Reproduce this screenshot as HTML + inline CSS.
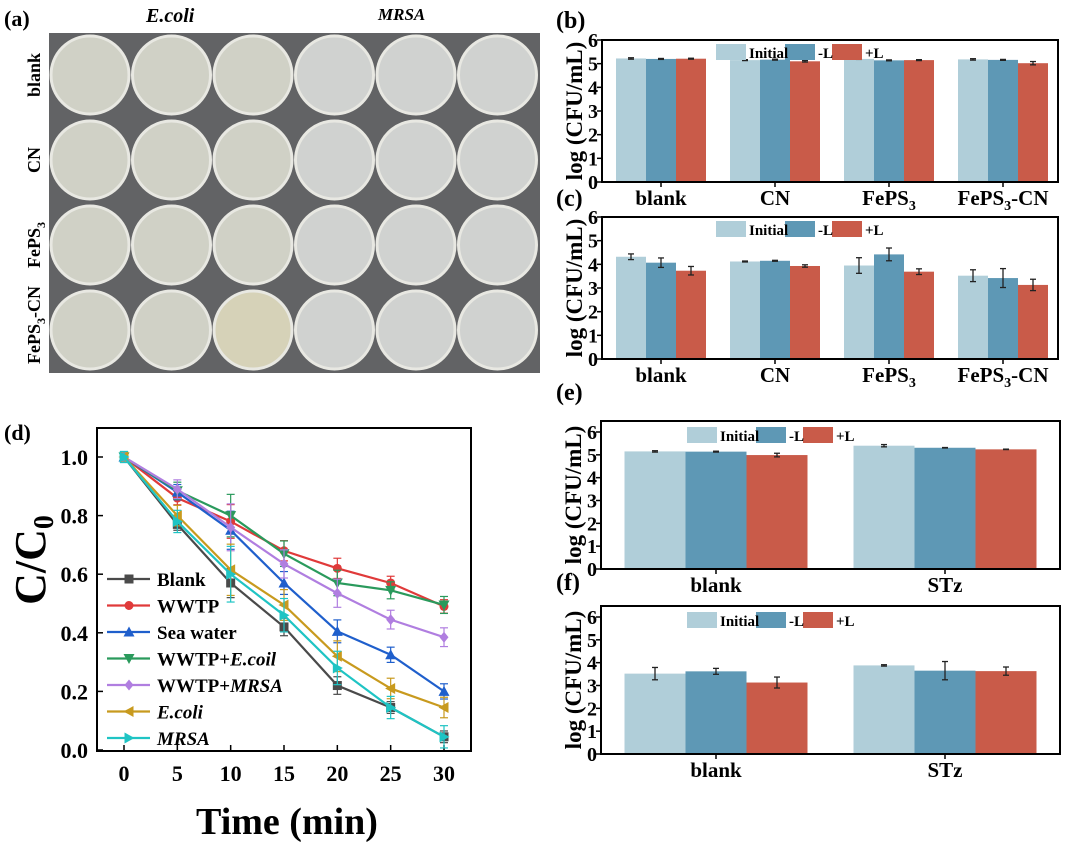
<!DOCTYPE html>
<html><head><meta charset="utf-8"><style>
body{margin:0;background:#fff}
svg{display:block;font-family:"Liberation Serif",serif;font-weight:bold}
</style></head><body>
<svg id="fig" width="1080" height="842" viewBox="0 0 1080 842" xmlns="http://www.w3.org/2000/svg">
<g id="pa">
<text x="4" y="26" font-size="22">(a)</text>
<text x="146" y="22" font-size="20" font-style="italic">E.coli</text>
<text x="378" y="20" font-size="17" font-style="italic">MRSA</text>
<rect x="49" y="33" width="491" height="340" fill="#626365"/>
<text transform="translate(40,75) rotate(-90)" text-anchor="middle" font-size="18">blank</text>
<text transform="translate(40,160) rotate(-90)" text-anchor="middle" font-size="18">CN</text>
<text transform="translate(40,245) rotate(-90)" text-anchor="middle" font-size="18">FePS<tspan font-size="12" dy="5">3</tspan></text>
<text transform="translate(40,325) rotate(-90)" text-anchor="middle" font-size="18">FePS<tspan font-size="12" dy="5">3</tspan><tspan dy="-5">-CN</tspan></text>
</g>
<g id="pd"></g>
<g id="pbars"></g>
</svg>
<script>
const NS="http://www.w3.org/2000/svg";
function mk(p,t,a){const e=document.createElementNS(NS,t);for(const k in a)e.setAttribute(k,a[k]);p.appendChild(e);return e;}
const pa=document.getElementById('pa');
for(let r=0;r<4;r++)for(let c=0;c<6;c++){
 const col=c<3?(r==3&&c==2?'#d6d2b8':'#d0d1c6'):'#d0d2d0';
 const p=mk(pa,'circle',{cx:49+41+c*81.5,cy:33+42+r*85,r:39,fill:col,stroke:'#e8e8e2','stroke-width':3});
 
 
}
// ===== Panel d data =====
const times=[0,5,10,15,20,25,30];
const seriesNames=["Blank","WWTP","Sea water","WWTP+E.coil","WWTP+MRSA","E.coli","MRSA"];
const blankVals=[1,0.77,0.57,0.42,0.22,0.145,0.045];
const wwtpVals=[1,0.86,0.78,0.68,0.62,0.57,0.49];
const seaVals=[1,0.88,0.75,0.57,0.405,0.325,0.20];
const wwtpEVals=[1,0.885,0.80,0.67,0.57,0.545,0.495];
const wwtpMVals=[1,0.89,0.76,0.635,0.535,0.445,0.385];
const ecoliVals=[1,0.80,0.615,0.495,0.32,0.21,0.145];
const mrsaVals=[1,0.78,0.60,0.46,0.28,0.145,0.045];
const errD=[0.01,0.02,0.05,0.03,0.03,0.02,0.02];
const yTicksD=[0,0.2,0.4,0.6,0.8,1.0];
const xTicksD=[0,5,10,15,20,25,30];
const allD=[blankVals,wwtpVals,seaVals,wwtpEVals,wwtpMVals,ecoliVals,mrsaVals];
const colD=['#4a4a4a','#e03a3a','#1f5fcc','#2a9a5c','#b07ee0','#c89a1e','#1fc4c4'];
const mkD=['s','o','^','v','d','<','>'];
const pd=document.getElementById('pd');
const dx=v=>124+v*(444-124)/30, dy=v=>750-v*(750-457);
mk(pd,'text',{x:4,y:440,'font-size':22}).textContent='(d)';
const fr=mk(pd,'rect',{x:97,y:428,width:374,height:323,fill:'none',stroke:'#000','stroke-width':2});

yTicksD.forEach(v=>{mk(pd,'line',{x1:97,x2:103,y1:dy(v),y2:dy(v),stroke:'#000','stroke-width':1.5});
 const t=mk(pd,'text',{x:88,y:dy(v)+8,'text-anchor':'end','font-size':22});t.textContent=v.toFixed(1);
 });
xTicksD.forEach(v=>{mk(pd,'line',{x1:dx(v),x2:dx(v),y1:751,y2:745,stroke:'#000','stroke-width':1.5});
 const t=mk(pd,'text',{x:dx(v),y:781,'text-anchor':'middle','font-size':22});t.textContent=v;
 });
let xt=mk(pd,'text',{x:287,y:834,'text-anchor':'middle','font-size':38});xt.textContent='Time (min)';

let yt=mk(pd,'text',{transform:'translate(45,560) rotate(-90)','text-anchor':'middle','font-size':44});
yt.innerHTML='C/C<tspan font-size="28" dy="8">0</tspan>';

function marker(g,type,x,y,c){
 let e;const s=4.5;
 if(type=='s')e=mk(g,'rect',{x:x-s,y:y-s,width:2*s,height:2*s,fill:c});
 else if(type=='o')e=mk(g,'circle',{cx:x,cy:y,r:s,fill:c});
 else{let pts;
  if(type=='^')pts=[[x,y-s-1],[x-s-1,y+s],[x+s+1,y+s]];
  if(type=='v')pts=[[x,y+s+1],[x-s-1,y-s],[x+s+1,y-s]];
  if(type=='d')pts=[[x,y-s-1],[x+s,y],[x,y+s+1],[x-s,y]];
  if(type=='<')pts=[[x-s-1,y],[x+s,y-s-1],[x+s,y+s+1]];
  if(type=='>')pts=[[x+s+1,y],[x-s,y-s-1],[x-s,y+s+1]];
  e=mk(g,'polygon',{points:pts.map(p=>p.join(',')).join(' '),fill:c});}
 return e;}
allD.forEach((vals,i)=>{
 const g=mk(pd,'g',{});
 
 
 mk(g,'polyline',{points:vals.map((v,j)=>dx(times[j])+','+dy(v)).join(' '),fill:'none',stroke:colD[i],'stroke-width':2.2});
 vals.forEach((v,j)=>{const e=errD[j]*(1+i*0.15);
  mk(g,'line',{x1:dx(times[j]),x2:dx(times[j]),y1:dy(v-e),y2:dy(v+e),stroke:colD[i],'stroke-width':1.2});
  mk(g,'line',{x1:dx(times[j])-4,x2:dx(times[j])+4,y1:dy(v+e),y2:dy(v+e),stroke:colD[i],'stroke-width':1.2});
  mk(g,'line',{x1:dx(times[j])-4,x2:dx(times[j])+4,y1:dy(v-e),y2:dy(v-e),stroke:colD[i],'stroke-width':1.2});
  const m=marker(g,mkD[i],dx(times[j]),dy(v),colD[i]);
  });
 const ly=579+i*26.5;
 const lg=mk(pd,'g',{});
 
 mk(lg,'line',{x1:107,x2:150,y1:ly,y2:ly,stroke:colD[i],'stroke-width':2.2});
 marker(lg,mkD[i],129,ly,colD[i]);
 const t=mk(lg,'text',{x:157,y:ly+7,'font-size':19});
 const nm=seriesNames[i];
 if(nm.startsWith('WWTP+'))t.innerHTML='WWTP+<tspan font-style="italic">'+nm.slice(5)+'</tspan>';
 else if(nm=='E.coli'||nm=='MRSA')t.innerHTML='<tspan font-style="italic">'+nm+'</tspan>';
 else t.textContent=nm;
});
// ===== Bar panels data =====
const catsBC=["blank","CN","FePS3","FePS3-CN"];
const catsEF=["blank","STz"];
const barSeries=["Initial","-L","+L"];
const bInit=[5.22,5.15,5.20,5.18], bMinus=[5.20,5.17,5.14,5.16], bPlus=[5.21,5.10,5.15,5.02];
const bErrI=[0.03,0.02,0.02,0.03], bErrM=[0.02,0.02,0.02,0.02], bErrP=[0.02,0.03,0.02,0.07];
const cInit=[4.32,4.12,3.95,3.52], cMinus=[4.07,4.15,4.42,3.42], cPlus=[3.73,3.93,3.69,3.13];
const cErrI=[0.12,0.02,0.33,0.25], cErrM=[0.2,0.02,0.27,0.4], cErrP=[0.18,0.05,0.12,0.24];
const eInit=[5.15,5.40], eMinus=[5.14,5.31], ePlus=[4.99,5.24];
const eErrI=[0.03,0.05], eErrM=[0.02,0.01], eErrP=[0.08,0.01];
const fInit=[3.52,3.88], fMinus=[3.62,3.65], fPlus=[3.13,3.63];
const fErrI=[0.27,0.03], fErrM=[0.13,0.4], fErrP=[0.24,0.18];
const yTicksBar=[0,1,2,3,4,5,6];
const barCol=['#b0ced9','#5e98b5','#c95b49'];
const legOff=[0,69,116];
const pb=document.getElementById('pbars');
function catLabel(t,x,y){const e=mk(pb,'text',{x:x,y:y,'text-anchor':'middle','font-size':21});
 if(t.startsWith('FePS3'))e.innerHTML='FePS<tspan font-size="14" dy="5">3</tspan><tspan dy="-5">'+t.slice(5)+'</tspan>';else e.textContent=t;
 }
function barPanel(o){
 const g=mk(pb,'g',{});
 const ys=v=>o.bot-v*(o.bot-o.y6)/6;
 mk(g,'text',{x:o.lx,y:o.ly,'font-size':24}).textContent=o.label;
 const yl=mk(g,'text',{transform:`translate(${o.left-20},${(o.top+o.bot)/2}) rotate(-90)`,'text-anchor':'middle','font-size':23});
 yl.textContent='log (CFU/mL)';
 yTicksBar.forEach(v=>{mk(g,'line',{x1:o.left,x2:o.left-5,y1:ys(v),y2:ys(v),stroke:'#000','stroke-width':1.5});
  const t=mk(g,'text',{x:o.left-4,y:ys(v)+7,'text-anchor':'end','font-size':20});t.textContent=v;
  });
 o.series.forEach((vals,s)=>vals.forEach((v,i)=>{
  const cx=o.cx[i]+(s-1)*o.bw, x=cx-o.bw/2;
  const b=mk(g,'rect',{x:x,y:ys(v),width:o.bw,height:o.bot-ys(v),fill:barCol[s]});
  
  const e=o.errs[s][i];
  mk(g,'line',{x1:cx,x2:cx,y1:ys(v-e),y2:ys(v+e),stroke:'#222','stroke-width':1.3});
  mk(g,'line',{x1:cx-3,x2:cx+3,y1:ys(v-e),y2:ys(v-e),stroke:'#222','stroke-width':1.3});
  mk(g,'line',{x1:cx-3,x2:cx+3,y1:ys(v+e),y2:ys(v+e),stroke:'#222','stroke-width':1.3});
 }));
 mk(g,'rect',{x:o.left,y:o.top,width:o.right-o.left,height:o.bot-o.top,fill:'none',stroke:'#000','stroke-width':2});
 o.cx.forEach((c,i)=>{mk(g,'line',{x1:c,x2:c,y1:o.bot,y2:o.bot+5,stroke:'#000','stroke-width':1.5});catLabel(o.cats[i],c,o.bot+23);});
 const lg=mk(g,'g',{});
 barSeries.forEach((n,s)=>{
  const r=mk(lg,'rect',{x:o.lgx+legOff[s],y:o.lgy,width:30,height:16,fill:barCol[s]});
  });
 barSeries.forEach((n,s)=>{
  const t=mk(lg,'text',{x:o.lgx+legOff[s]+33,y:o.lgy+14,'font-size':15});t.textContent=n;
  });
}
barPanel({name:'panel-b-bar-chart',label:'(b)',lx:556,ly:28,left:602,right:1058,top:40,bot:182,y6:40,cats:catsBC,
 cx:[661,775,889,1003],bw:30,series:[bInit,bMinus,bPlus],errs:[bErrI,bErrM,bErrP],lgx:716,lgy:44});
barPanel({name:'panel-c-bar-chart',label:'(c)',lx:556,ly:206,left:602,right:1058,top:217,bot:359,y6:217,cats:catsBC,
 cx:[661,775,889,1003],bw:30,series:[cInit,cMinus,cPlus],errs:[cErrI,cErrM,cErrP],lgx:716,lgy:221});
barPanel({name:'panel-e-bar-chart',label:'(e)',lx:556,ly:400,left:601,right:1060,top:421,bot:569,y6:432,cats:catsEF,
 cx:[716,945],bw:61,series:[eInit,eMinus,ePlus],errs:[eErrI,eErrM,eErrP],lgx:687,lgy:427});
barPanel({name:'panel-f-bar-chart',label:'(f)',lx:556,ly:590,left:601,right:1060,top:606,bot:754,y6:617,cats:catsEF,
 cx:[716,945],bw:61,series:[fInit,fMinus,fPlus],errs:[fErrI,fErrM,fErrP],lgx:687,lgy:612});
</script>
</body></html>
